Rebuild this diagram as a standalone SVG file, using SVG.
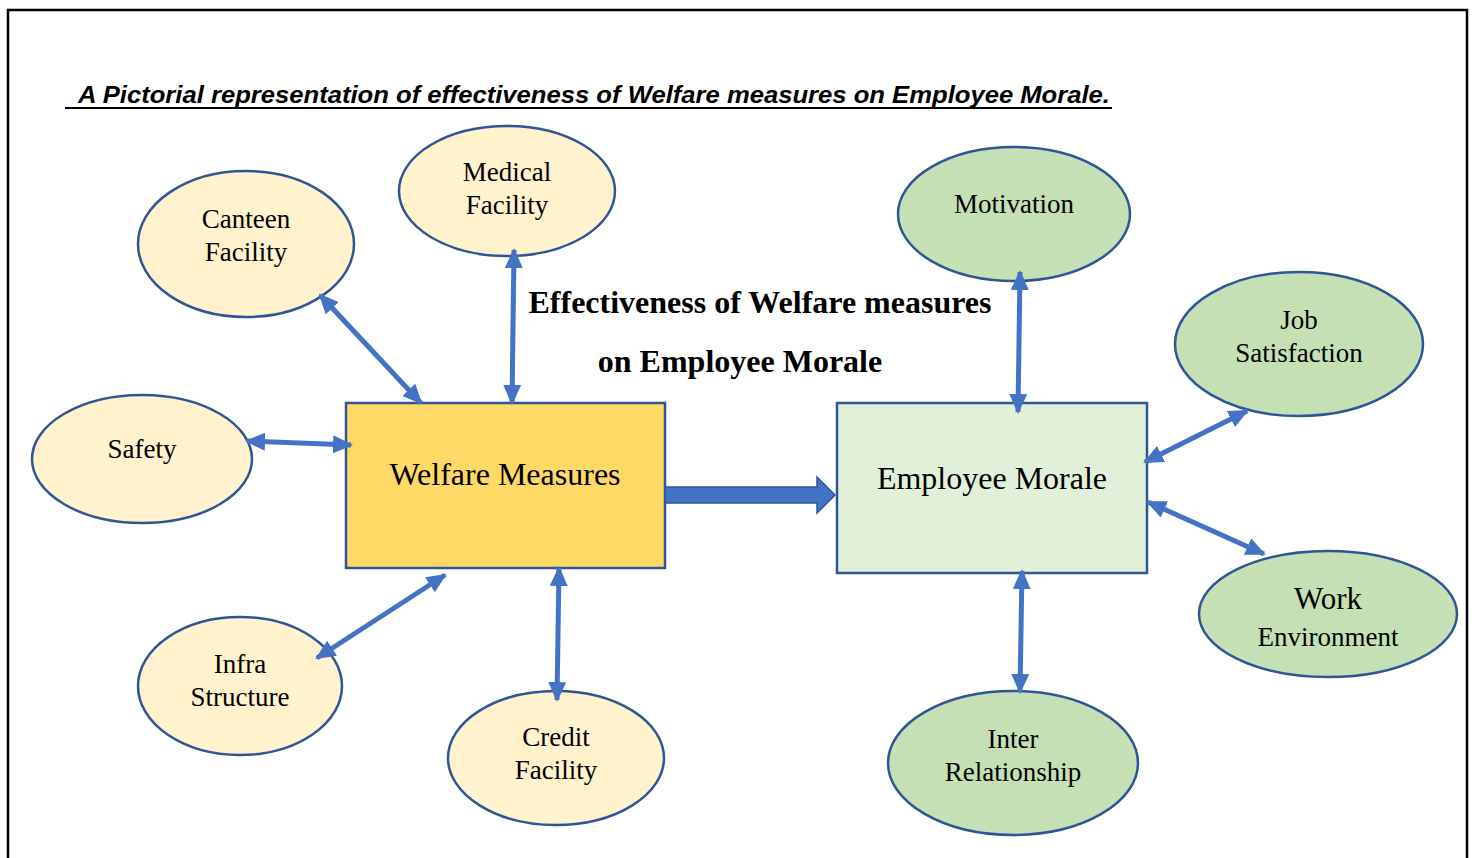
<svg xmlns="http://www.w3.org/2000/svg" width="1474" height="858" viewBox="0 0 1474 858">
<defs>
<marker id="ah" viewBox="0 0 20 18" refX="18" refY="9" markerWidth="20" markerHeight="18" markerUnits="userSpaceOnUse" orient="auto-start-reverse">
<path d="M0,0 L20,9 L0,18 Z" fill="#4472C4"/>
</marker>
<style>
.y{fill:#FFF2CC;stroke:#2F5597;stroke-width:2.5}
.g{fill:#C5E0B4;stroke:#2F5597;stroke-width:2.5}
.t{font-family:"Liberation Serif",serif;font-size:27px;fill:#000;text-anchor:middle}
.big{font-family:"Liberation Serif",serif;font-size:32px;fill:#000;text-anchor:middle}
.lbl{font-family:"Liberation Serif",serif;font-size:32px;font-weight:bold;fill:#000;text-anchor:middle}
.c{stroke:#4472C4;stroke-width:5;fill:none;marker-start:url(#ah);marker-end:url(#ah)}
</style>
</defs>
<rect x="0" y="0" width="1474" height="858" fill="#fff"/>
<path d="M8,858 L8,10 L1467,10 L1467,858" fill="none" stroke="#000" stroke-width="2.5"/>
<text x="594" y="103" font-family="'Liberation Sans',sans-serif" font-size="24" font-weight="bold" font-style="italic" text-anchor="middle" textLength="1032" lengthAdjust="spacingAndGlyphs">A Pictorial representation of effectiveness of Welfare measures on Employee Morale.</text>
<line x1="65" y1="108" x2="1112" y2="108" stroke="#000" stroke-width="2"/>

<g id="welfare"><rect x="346" y="403" width="319" height="165" fill="#FFD966" stroke="#2F5597" stroke-width="2.5"/><text class="big" x="505" y="485">Welfare Measures</text></g>
<g id="morale"><rect x="837" y="403" width="310" height="170" fill="#E2F0D9" stroke="#2F5597" stroke-width="2.5"/><text class="big" x="992" y="489">Employee Morale</text></g>

<g id="canteen"><ellipse class="y" cx="246" cy="244" rx="108" ry="73"/><text class="t" x="246" y="228">Canteen</text><text class="t" x="246" y="261">Facility</text></g>
<g id="medical"><ellipse class="y" cx="507" cy="191" rx="108" ry="65"/><text class="t" x="507" y="181">Medical</text><text class="t" x="507" y="214">Facility</text></g>
<g id="safety"><ellipse class="y" cx="142" cy="459" rx="110" ry="64"/><text class="t" x="142" y="458">Safety</text></g>
<g id="infra"><ellipse class="y" cx="240" cy="686" rx="102" ry="69"/><text class="t" x="240" y="673">Infra</text><text class="t" x="240" y="706">Structure</text></g>
<g id="credit"><ellipse class="y" cx="556" cy="758" rx="108" ry="67"/><text class="t" x="556" y="746">Credit</text><text class="t" x="556" y="779">Facility</text></g>

<g id="motivation"><ellipse class="g" cx="1014" cy="214" rx="116" ry="67"/><text class="t" x="1014" y="213">Motivation</text></g>
<g id="job"><ellipse class="g" cx="1299" cy="344" rx="124" ry="72"/><text class="t" x="1299" y="329">Job</text><text class="t" x="1299" y="362">Satisfaction</text></g>
<g id="work"><ellipse class="g" cx="1328" cy="614" rx="129" ry="63"/><text class="t" x="1328" y="609" style="font-size:31px">Work</text><text class="t" x="1328" y="646">Environment</text></g>
<g id="inter"><ellipse class="g" cx="1013" cy="763" rx="125" ry="72"/><text class="t" x="1013" y="748">Inter</text><text class="t" x="1013" y="781">Relationship</text></g>

<g id="label"><text class="lbl" x="760" y="313">Effectiveness of Welfare measures</text><text class="lbl" x="740" y="372">on Employee Morale</text></g>

<g id="connectors">
<line class="c" x1="320" y1="295" x2="421" y2="403"/>
<line class="c" x1="514" y1="250" x2="512" y2="403"/>
<line class="c" x1="247" y1="441" x2="351" y2="445"/>
<line class="c" x1="317" y1="658" x2="445" y2="575"/>
<line class="c" x1="559" y1="568" x2="557" y2="700"/>
<line class="c" x1="1020" y1="272" x2="1018" y2="412"/>
<line class="c" x1="1145" y1="462" x2="1247" y2="411"/>
<line class="c" x1="1148" y1="502" x2="1264" y2="554"/>
<line class="c" x1="1022" y1="571" x2="1020" y2="692"/>
<path d="M665,487 L817,487 L817,477 L835,495 L817,513 L817,503 L665,503 Z" fill="#4472C4" stroke="#2F5597" stroke-width="1.5"/>
</g>
</svg>
